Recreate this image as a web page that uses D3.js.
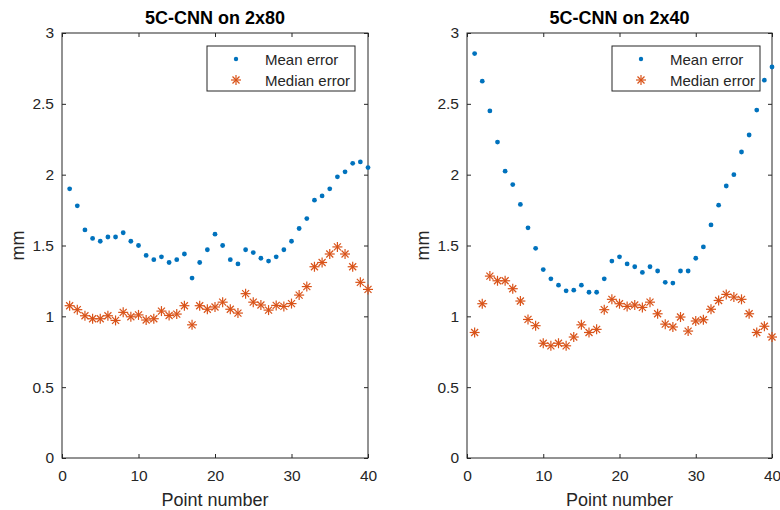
<!DOCTYPE html>
<html>
<head>
<meta charset="utf-8">
<script src="https://cdn.jsdelivr.net/npm/d3@7"></script>
<style>
  body { margin: 0; background: #fff; }
  svg { display: block; font-family: "Liberation Sans", Arial, sans-serif; }
</style>
</head>
<body>
<div id="chart"></div>
<script>
const pointNumbers = d3.range(1, 41);

const mean2x80 = [1.90, 1.78, 1.61, 1.55, 1.53, 1.56, 1.56, 1.59, 1.53, 1.50,
  1.43, 1.40, 1.42, 1.38, 1.40, 1.44, 1.27, 1.38, 1.47, 1.58,
  1.50, 1.40, 1.37, 1.47, 1.45, 1.41, 1.39, 1.42, 1.47, 1.53,
  1.62, 1.69, 1.82, 1.85, 1.90, 1.985, 2.02, 2.08, 2.09, 2.05];
const median2x80 = [1.075, 1.047, 1.004, 0.983, 0.983, 1.004, 0.971, 1.028, 0.997, 1.01,
  0.974, 0.983, 1.037, 1.006, 1.016, 1.075, 0.94, 1.075, 1.05, 1.066,
  1.10, 1.05, 1.023, 1.16, 1.10, 1.08, 1.044, 1.077, 1.07, 1.09,
  1.15, 1.21, 1.35, 1.38, 1.44, 1.49, 1.44, 1.35, 1.24, 1.19];

const mean2x40 = [2.855, 2.66, 2.45, 2.23, 2.025, 1.93, 1.79, 1.625, 1.48, 1.33,
  1.265, 1.22, 1.18, 1.185, 1.22, 1.17, 1.17, 1.265, 1.39, 1.42,
  1.37, 1.35, 1.31, 1.35, 1.32, 1.24, 1.235, 1.32, 1.32, 1.41,
  1.49, 1.645, 1.785, 1.92, 2.0, 2.16, 2.28, 2.456, 2.667, 2.76];
const median2x40 = [0.886, 1.089, 1.284, 1.251, 1.251, 1.195, 1.108, 0.978, 0.934, 0.81,
  0.792, 0.81, 0.792, 0.854, 0.94, 0.886, 0.908, 1.047, 1.12, 1.089,
  1.07, 1.08, 1.063, 1.10, 1.018, 0.945, 0.925, 0.995, 0.896, 0.967,
  0.976, 1.05, 1.112, 1.155, 1.136, 1.12, 1.018, 0.886, 0.93, 0.854];

const xTicks = [0, 10, 20, 30, 40];
const yTicks = [0, 0.5, 1, 1.5, 2, 2.5, 3];
const seriesNames = ["Mean error", "Median error"];

const panels = [
  { title: "5C-CNN on 2x80", mean: mean2x80, median: median2x80, left: 62, right: 368 },
  { title: "5C-CNN on 2x40", mean: mean2x40, median: median2x40, left: 467, right: 772 }
];

const width = 780, height = 510;
const plotTop = 33, plotBottom = 458;
const meanColor = "#0072BD", medianColor = "#D95319", axisColor = "#262626";

const svg = d3.select("#chart").append("svg")
  .attr("width", width)
  .attr("height", height);

// asterisk marker made of 4 strokes
const asterisk = (g, r) => {
  [[-r, 0, r, 0], [0, -r, 0, r], [-r * 0.7, -r * 0.7, r * 0.7, r * 0.7], [-r * 0.7, r * 0.7, r * 0.7, -r * 0.7]]
    .forEach(l => g.append("line")
      .attr("x1", l[0]).attr("y1", l[1]).attr("x2", l[2]).attr("y2", l[3])
      .attr("stroke", medianColor).attr("stroke-width", 1.2));
};

panels.forEach(p => {
  const x = d3.scaleLinear().domain([0, 40]).range([p.left, p.right]);
  const y = d3.scaleLinear().domain([0, 3]).range([plotBottom, plotTop]);
  const g = svg.append("g");

  // ticks inside the box, on all four sides
  g.append("g").attr("transform", `translate(0,${plotBottom})`)
    .call(d3.axisBottom(x).tickValues(xTicks).tickSizeInner(-4).tickSizeOuter(0).tickPadding(12))
    .call(a => a.select(".domain").remove());
  g.append("g").attr("transform", `translate(0,${plotTop})`)
    .call(d3.axisTop(x).tickValues(xTicks).tickSizeInner(-4).tickSizeOuter(0).tickFormat(""))
    .call(a => a.select(".domain").remove());
  g.append("g").attr("transform", `translate(${p.left},0)`)
    .call(d3.axisLeft(y).tickValues(yTicks).tickSizeInner(-4).tickSizeOuter(0).tickPadding(8).tickFormat(d3.format("~g")))
    .call(a => a.select(".domain").remove());
  g.append("g").attr("transform", `translate(${p.right},0)`)
    .call(d3.axisRight(y).tickValues(yTicks).tickSizeInner(-4).tickSizeOuter(0).tickFormat(""))
    .call(a => a.select(".domain").remove());

  g.selectAll(".tick line").attr("stroke", axisColor);
  g.selectAll(".tick text").attr("fill", axisColor).attr("font-size", 15.5).attr("font-family", "Liberation Sans, Arial, sans-serif");

  g.append("rect")
    .attr("x", p.left).attr("y", plotTop)
    .attr("width", p.right - p.left).attr("height", plotBottom - plotTop)
    .attr("fill", "none").attr("stroke", axisColor).attr("stroke-width", 1);

  // title and labels
  const cx = (p.left + p.right) / 2;
  g.append("text").text(p.title)
    .attr("x", cx).attr("y", 24).attr("text-anchor", "middle")
    .attr("font-size", 18).attr("font-weight", "bold").attr("fill", "#000");
  g.append("text").text("Point number")
    .attr("x", cx).attr("y", 506).attr("text-anchor", "middle")
    .attr("font-size", 18).attr("fill", axisColor);
  g.append("text").text("mm")
    .attr("transform", `translate(${p.left - 38},${(plotTop + plotBottom) / 2}) rotate(-90)`)
    .attr("text-anchor", "middle")
    .attr("font-size", 18).attr("fill", axisColor);

  // median series (asterisks)
  g.append("g").selectAll("g.med")
    .data(pointNumbers.map((n, i) => [n, p.median[i]]))
    .join("g").attr("class", "med")
    .attr("transform", d => `translate(${x(d[0])},${y(d[1])})`)
    .each(function () { asterisk(d3.select(this), 5); });

  // mean series (dots)
  g.append("g").selectAll("circle")
    .data(pointNumbers.map((n, i) => [n, p.mean[i]]))
    .join("circle")
    .attr("cx", d => x(d[0])).attr("cy", d => y(d[1]))
    .attr("r", 2.4).attr("fill", meanColor);

  // legend
  const lx = p.left + 145, ly = 46, lw = 148, lh = 45;
  const leg = g.append("g");
  leg.append("rect")
    .attr("x", lx).attr("y", ly).attr("width", lw).attr("height", lh)
    .attr("fill", "#fff").attr("stroke", axisColor).attr("stroke-width", 1);
  leg.append("circle")
    .attr("cx", lx + 29).attr("cy", ly + 13).attr("r", 2.2).attr("fill", meanColor);
  asterisk(leg.append("g").attr("transform", `translate(${lx + 29},${ly + 34})`), 5);
  seriesNames.forEach((name, i) => {
    leg.append("text").text(name)
      .attr("x", lx + 58).attr("y", ly + 19 + i * 21)
      .attr("font-size", 15).attr("fill", axisColor);
  });
});
</script>
</body>
</html>
